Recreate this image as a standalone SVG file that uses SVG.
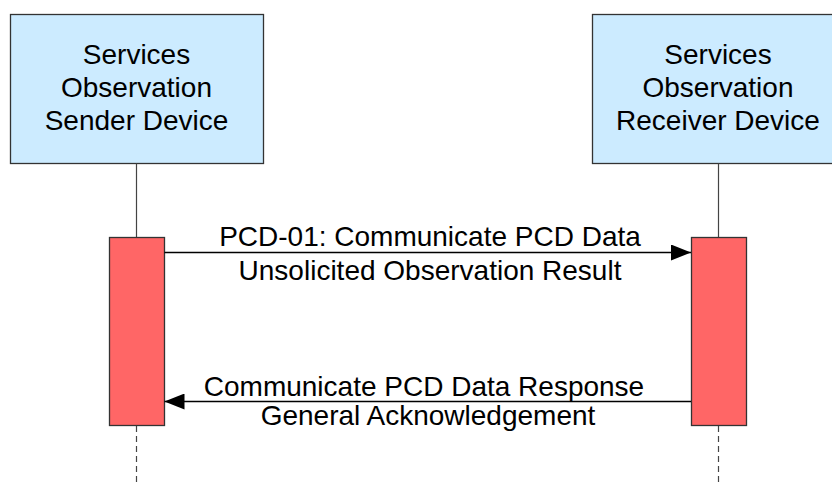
<svg xmlns="http://www.w3.org/2000/svg" width="832" height="485" viewBox="0 0 832 485">
<style>
.box{fill:#CCEBFF;stroke:#333333;stroke-width:1.3}
.act{fill:#FF6666;stroke:#333333;stroke-width:1.3}
.life{stroke:#444444;stroke-width:1.2;fill:none}
.dash{stroke:#444444;stroke-width:1.2;stroke-dasharray:6 4;fill:none}
.msg{stroke:#000000;stroke-width:1.3;fill:none}
text{font-family:"Liberation Sans",Arial,sans-serif;font-size:28px;fill:#000000;text-anchor:middle}
</style>
<defs>
<marker id="ah" markerWidth="20" markerHeight="16" refX="20" refY="8" orient="auto" markerUnits="userSpaceOnUse">
<path d="M0,0 L20,8 L0,16 Z" fill="#000000"/>
</marker>
</defs>
<g id="sender">
<rect class="box" x="10.5" y="14.5" width="253" height="149"/>
<text x="136.5" y="64">Services</text>
<text x="136.5" y="97">Observation</text>
<text x="136.5" y="130">Sender Device</text>
</g>
<g id="receiver">
<rect class="box" x="592.5" y="14.5" width="253" height="149"/>
<text x="718" y="64">Services</text>
<text x="718" y="97">Observation</text>
<text x="718" y="130">Receiver Device</text>
</g>
<g id="lifelines">
<line class="life" x1="136.5" y1="163.5" x2="136.5" y2="237"/>
<line class="dash" x1="136.5" y1="426" x2="136.5" y2="485"/>
<line class="life" x1="718.5" y1="163.5" x2="718.5" y2="237"/>
<line class="dash" x1="718.5" y1="426" x2="718.5" y2="485"/>
</g>
<g id="sender-activation">
<rect class="act" x="109.5" y="237.5" width="55" height="188"/>
</g>
<g id="receiver-activation">
<rect class="act" x="691.5" y="237.5" width="55" height="188"/>
</g>
<g id="connectors">
<line class="msg" x1="164.5" y1="252.5" x2="691" y2="252.5" marker-end="url(#ah)"/>
<line class="msg" x1="691" y1="401.5" x2="164.5" y2="401.5" marker-end="url(#ah)"/>
</g>
<g id="labels">
<text x="430" y="246">PCD-01: Communicate PCD Data</text>
<text x="430" y="280">Unsolicited Observation Result</text>
<text x="424" y="396">Communicate PCD Data Response</text>
<text x="428" y="425">General Acknowledgement</text>
</g>
</svg>
